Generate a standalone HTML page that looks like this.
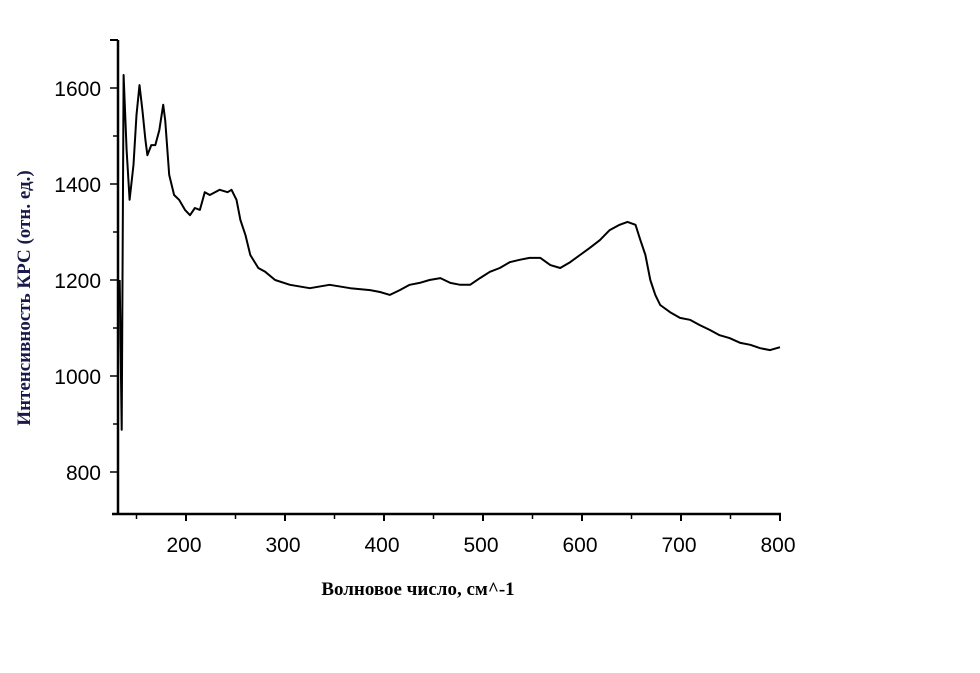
<!DOCTYPE html>
<html><head><meta charset="utf-8"><style>
body{margin:0;background:#fff;}
svg text{font-family:"Liberation Sans",sans-serif;}
</style></head><body>
<svg width="980" height="668" viewBox="0 0 980 668">
<g id="axes"></g>
<path id="series" fill="none" stroke="#000" stroke-width="2" stroke-linejoin="round"/>
<text x="418" y="595" text-anchor="middle" style="font-family:'Liberation Serif',serif;font-weight:bold;font-size:19px">Волновое число, см^-1</text>
<text transform="translate(30,298) rotate(-90)" text-anchor="middle" fill="#1a1a4a" style="font-family:'Liberation Serif',serif;font-weight:bold;font-size:19px">Интенсивность КРС (отн. ед.)</text>
</svg>
<script>
const waveNumbers=[133,135,137,140,143,147,150,153,156,159,161,165,169,173,177,179,183,188,193,199,204,209,214,219,224,234,242,246,251,255,260,265,273,280,290,305,325,345,366,386,396,406,416,426,436,446,457,467,477,487,497,507,517,527,537,547,558,568,578,588,598,608,618,628,638,646,654,659,664,669,674,679,689,699,709,719,729,739,749,760,770,780,790,800];
const intensities=[1200,888,1627,1471,1367,1440,1544,1606,1554,1492,1460,1481,1481,1512,1565,1533,1419,1377,1367,1346,1335,1350,1346,1383,1377,1388,1383,1388,1367,1325,1294,1252,1225,1217,1200,1190,1183,1190,1183,1179,1175,1169,1179,1190,1194,1200,1204,1194,1190,1190,1204,1217,1225,1237,1242,1246,1246,1231,1225,1237,1252,1267,1283,1304,1315,1321,1315,1283,1252,1200,1169,1148,1133,1121,1117,1106,1096,1085,1079,1069,1065,1058,1054,1060];
const xTicks=[200,300,400,500,600,700,800];
const yTicks=[800,1000,1200,1400,1600];
const X=v=>186+(v-200)*0.99, Y=v=>88+(1600-v)*0.48;
const ns="http://www.w3.org/2000/svg", ax=document.getElementById('axes');
function mk(t,a){const e=document.createElementNS(ns,t);for(const k in a)e.setAttribute(k,a[k]);ax.appendChild(e);return e;}
let l=mk('line',{x1:118,y1:40,x2:118,y2:515,stroke:'#000','stroke-width':2.5});


l=mk('line',{x1:112,y1:514,x2:781,y2:514,stroke:'#000','stroke-width':2.5});


mk('line',{x1:110,y1:40,x2:118,y2:40,stroke:'#000','stroke-width':2});
for(const t of xTicks){mk('line',{x1:X(t),y1:514,x2:X(t),y2:521,stroke:'#000','stroke-width':2});
 const tx=mk('text',{x:X(t)-2,y:552,'text-anchor':'middle','font-size':21});tx.textContent=t;
 
 
 mk('line',{x1:X(t-50),y1:514,x2:X(t-50),y2:519,stroke:'#000','stroke-width':1.5});}
for(const t of yTicks){mk('line',{x1:110,y1:Y(t),x2:118,y2:Y(t),stroke:'#000','stroke-width':1.5});
 const tx=mk('text',{x:101,y:Y(t)+8,'text-anchor':'end','font-size':21});tx.textContent=t;
 
 
 mk('line',{x1:113,y1:Y(t+100),x2:118,y2:Y(t+100),stroke:'#000','stroke-width':1.5});}
document.getElementById('series').setAttribute('d',waveNumbers.map((w,i)=>(i?'L':'M')+X(w).toFixed(1)+','+Y(intensities[i]).toFixed(1)).join(''));
</script>
</body></html>
